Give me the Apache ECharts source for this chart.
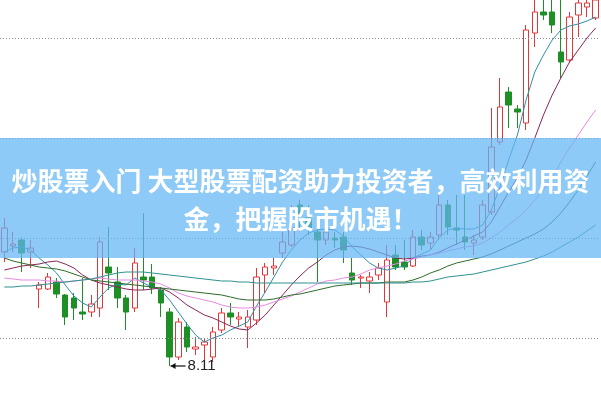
<!DOCTYPE html>
<html><head><meta charset="utf-8">
<script src="https://cdn.jsdelivr.net/npm/echarts@6/dist/echarts.min.js"></script>
<style>html,body{margin:0;padding:0;background:#fff;overflow:hidden}#c{width:601px;height:399px}</style>
</head><body><div id="c"></div>
<script>
// ---- data ----
const categories = ['1','2','3','4','5','6','7','8','9','10','11','12','13','14','15','16','17','18','19','20','21','22','23','24','25','26','27','28','29','30','31','32','33','34','35','36','37','38','39','40','41','42','43','44','45','46','47','48','49','50','51','52','53','54','55','56','57','58','59','60','61','62','63','64','65','66','67','68','69'];
// [open, close, low, high]
const candles = [
[9.25,9.49,9.15,9.59],[9.31,9.33,9.25,9.45],[9.37,9.24,9.05,9.40],[9.25,9.29,9.09,9.37],
[8.88,8.92,8.69,8.95],[8.88,9.00,8.87,9.04],[8.95,8.83,8.79,8.99],[8.82,8.60,8.52,8.83],
[8.79,8.69,8.57,8.84],[8.65,8.63,8.57,8.99],[8.65,8.73,8.60,8.82],[8.69,9.35,8.60,9.40],
[9.10,9.04,8.87,9.50],[8.95,8.79,8.69,9.10],[8.79,8.65,8.47,8.82],[8.69,9.14,8.65,9.29],
[9.00,8.97,8.87,9.64],[9.00,8.89,8.83,9.13],[8.87,8.74,8.60,8.90],[8.65,8.20,8.11,8.69],
[8.20,8.55,8.17,8.59],[8.50,8.30,8.25,8.55],[8.28,8.30,8.22,8.40],[8.32,8.35,8.17,8.39],
[8.20,8.45,8.15,8.50],[8.47,8.64,8.44,8.69],[8.64,8.60,8.52,8.74],[8.58,8.60,8.50,8.65],
[8.50,8.60,8.29,8.67],[8.57,9.00,8.52,9.09],[9.02,9.10,8.84,9.14],[9.09,9.11,9.02,9.19],
[9.24,9.35,9.19,9.45],[9.32,9.49,9.30,9.72],[9.72,9.62,9.45,9.77],[9.59,9.49,9.42,9.72],
[9.45,9.37,8.95,9.49],[9.37,9.45,9.32,9.49],[9.39,9.37,9.29,9.45],[9.40,9.27,9.14,9.45],
[9.04,8.97,8.92,9.19],[8.99,9.00,8.89,9.02],[8.96,9.00,8.84,9.05],[9.02,9.09,8.97,9.14],
[8.75,9.17,8.60,9.32],[9.22,9.10,9.07,9.32],[9.15,9.10,9.07,9.37],[9.11,9.40,9.10,9.47],
[9.40,9.32,9.27,9.47],[9.34,9.40,9.27,9.45],[9.42,9.72,9.37,9.84],[9.72,9.50,9.42,9.77],
[9.49,9.47,9.32,9.82],[9.40,9.35,9.27,9.82],[9.34,9.37,9.22,9.42],[9.40,9.72,9.37,9.77],
[9.65,10.30,9.62,10.69],[10.35,10.70,10.32,10.99],[10.85,10.72,10.49,10.90],[10.68,10.65,10.49,10.72],
[10.54,11.47,10.47,11.52],[11.44,11.65,11.30,11.80],[11.65,11.62,11.57,11.80],[11.65,11.52,11.44,11.80],
[11.25,11.15,10.99,11.80],[11.17,11.60,11.14,11.65],[11.62,11.74,11.40,11.80],[11.70,11.74,11.60,11.80],
[11.59,11.77,11.57,11.82]
];
const ma5 = [9.25,9.29,9.30,9.27,9.19,9.12,9.04,8.92,8.81,8.74,8.70,8.80,8.89,8.93,8.92,8.99,8.94,8.90,8.87,8.77,8.65,8.53,8.42,8.35,8.39,8.42,8.47,8.51,8.55,8.71,8.85,9.00,9.15,9.27,9.37,9.44,9.47,9.48,9.47,9.41,9.30,9.22,9.14,9.09,9.07,9.09,9.11,9.19,9.23,9.27,9.39,9.47,9.49,9.48,9.48,9.52,9.67,9.90,10.17,10.42,10.77,11.05,11.22,11.37,11.47,11.51,11.53,11.56,11.60];
const ma10 = [9.07,9.09,9.11,9.12,9.13,9.15,9.16,9.13,9.09,9.02,8.97,8.94,8.92,8.90,8.88,8.87,8.87,8.88,8.89,8.85,8.79,8.72,8.67,8.62,8.59,8.55,8.51,8.48,8.47,8.54,8.62,8.72,8.82,8.92,9.01,9.09,9.15,9.22,9.27,9.30,9.31,9.30,9.28,9.25,9.22,9.19,9.18,9.19,9.21,9.22,9.25,9.29,9.33,9.37,9.41,9.45,9.55,9.70,9.85,9.99,10.17,10.39,10.62,10.82,10.99,11.15,11.27,11.39,11.49];
const ma20 = [8.99,8.98,8.97,8.97,8.97,8.96,8.96,8.95,8.96,8.97,8.98,8.99,8.98,8.97,8.97,8.97,8.96,8.95,8.93,8.89,8.84,8.81,8.79,8.77,8.75,8.72,8.70,8.69,8.69,8.70,8.72,8.75,8.78,8.81,8.85,8.89,8.93,8.96,8.97,8.99,9.00,9.03,9.07,9.09,9.11,9.13,9.16,9.18,9.20,9.22,9.24,9.26,9.28,9.30,9.31,9.34,9.39,9.45,9.52,9.59,9.67,9.77,9.87,9.99,10.15,10.29,10.42,10.55,10.67];
const ma30 = [9.19,9.16,9.14,9.12,9.10,9.09,9.08,9.06,9.03,9.00,8.97,8.96,8.95,8.94,8.93,8.92,8.91,8.90,8.89,8.88,8.87,8.86,8.85,8.84,8.83,8.82,8.80,8.78,8.77,8.77,8.77,8.78,8.80,8.82,8.83,8.85,8.87,8.89,8.91,8.92,8.93,8.94,8.94,8.94,8.95,8.95,8.95,8.97,9.00,9.04,9.07,9.11,9.14,9.16,9.18,9.20,9.23,9.27,9.31,9.35,9.39,9.43,9.48,9.55,9.64,9.75,9.87,10.01,10.15];
const ma60 = [8.90,8.90,8.91,8.91,8.92,8.93,8.94,8.95,8.96,8.97,8.98,9.00,9.02,9.04,9.05,9.05,9.05,9.04,9.03,9.02,9.01,9.00,8.99,8.98,8.97,8.96,8.96,8.95,8.95,8.94,8.94,8.94,8.94,8.94,8.94,8.94,8.94,8.94,8.94,8.94,8.94,8.94,8.94,8.94,8.94,8.94,8.94,8.95,8.95,8.96,8.98,9.00,9.01,9.02,9.03,9.05,9.07,9.09,9.11,9.13,9.15,9.18,9.21,9.25,9.30,9.35,9.40,9.46,9.52];
const gridValues = [8.39, 9.39, 10.39, 11.39];
const lowMarkIndex = 19;
const lowMarkValue = 8.11;
const lowMarkText = '8.11';
const bannerLines = ['炒股票入门 大型股票配资助力投资者，高效利用资', '金，把握股市机遇！'];

// ---- chart ----
const chart = echarts.init(document.getElementById('c'), null, {renderer: 'canvas'});
const lineS = (name, data, color) => ({
  name, type: 'line', data, showSymbol: false, symbol: 'none', smooth: false,
  lineStyle: {color, width: 1}, z: 4, silent: true
});
chart.setOption({
  animation: false,
  backgroundColor: '#ffffff',
  grid: {left: -4, right: 1, top: 0, bottom: 0},
  xAxis: {type: 'category', data: categories, boundaryGap: true, show: false},
  yAxis: {type: 'value', min: 7.78, max: 11.77, show: false, splitLine: {show: false}},
  series: [
    {type: 'line', data: categories.map(() => null), z: 1, silent: true,
     markLine: {silent: true, symbol: 'none', animation: false, label: {show: false},
       lineStyle: {type: [1, 2], color: '#8c8c8c', width: 1},
       data: gridValues.map(v => ({yAxis: v}))}},
    {type: 'candlestick', data: candles, barWidth: 6, z: 3, silent: true,
     itemStyle: {color: '#ffffff', color0: '#1d8f24', borderColor: '#e0383a', borderColor0: '#1d8f24', borderWidth: 1}},
    lineS('MA5', ma5, '#2f8fa6'),
    lineS('MA10', ma10, '#8b2458'),
    lineS('MA20', ma20, '#e58be3'),
    lineS('MA30', ma30, '#2d6b2a'),
    lineS('MA60', ma60, '#2f9090')
  ]
});

const p = chart.convertToPixel({xAxisIndex: 0, yAxisIndex: 0}, [lowMarkIndex, lowMarkValue]);
chart.setOption({
  graphic: [
    {type: 'line', z: 50, shape: {x1: p[0] + 1, y1: p[1], x2: p[0] + 16, y2: p[1]}, style: {stroke: '#111', lineWidth: 1.2}},
    {type: 'polygon', z: 50, shape: {points: [[p[0] + 1, p[1]], [p[0] + 6, p[1] - 3], [p[0] + 6, p[1] + 3]]}, style: {fill: '#111'}},
    {type: 'text', z: 50, x: p[0] + 18, y: p[1], style: {text: lowMarkText, fill: '#222', font: '15px "Liberation Sans", Arial, sans-serif', textVerticalAlign: 'middle'}},
    {type: 'rect', z: 100, shape: {x: 0, y: 138, width: 601, height: 120}, style: {fill: 'rgba(98,182,245,0.72)'}},
    {type: 'text', z: 101, x: 300.5, y: 181, style: {text: bannerLines[0], fill: '#ffffff', font: 'bold 26px "Noto Sans CJK SC", sans-serif', textAlign: 'center', textVerticalAlign: 'middle'}},
    {type: 'text', z: 101, x: 300.5, y: 219, style: {text: bannerLines[1], fill: '#ffffff', font: 'bold 26px "Noto Sans CJK SC", sans-serif', textAlign: 'center', textVerticalAlign: 'middle'}}
  ]
});
</script>
</body></html>
